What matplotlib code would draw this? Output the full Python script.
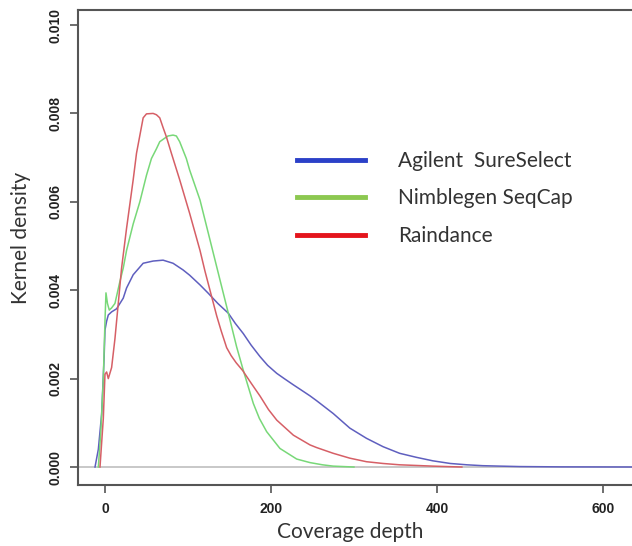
import matplotlib
matplotlib.use("Agg")
import matplotlib.pyplot as plt
from matplotlib.lines import Line2D

# ---- data ----
agilent_x = [-12, -8, -4, -1, 0, 2, 4, 8, 14, 18, 22, 26, 34, 46, 58, 70, 82, 94, 102,
             114.5, 124.5, 136, 148.6, 157, 166.6, 176, 186.7, 196, 206.9, 216, 226.9,
             235, 247, 255, 275, 295, 315, 335, 355, 375, 395, 416, 436, 455, 476, 500,
             550, 640]
agilent_y = [0, 0.0004, 0.0012, 0.0025, 0.0031, 0.0033, 0.00344, 0.00351, 0.00358, 0.0037,
             0.00382, 0.00405, 0.00435, 0.00461, 0.00466, 0.00468, 0.00461, 0.00446, 0.00434,
             0.00412, 0.00393, 0.0037, 0.00348, 0.00325, 0.00302, 0.00276, 0.0025, 0.0023,
             0.00212, 0.002, 0.00186, 0.00176, 0.00161, 0.0015, 0.00121, 0.00088, 0.00065,
             0.00046, 0.00031, 0.00022, 0.00014, 0.00008, 0.00005, 0.00003, 0.00002, 0.00001,
             0.000003, 0]

nimblegen_x = [-8, -5, -2, 0, 1.2, 3, 5.2, 8, 12, 18, 22, 26, 34, 42, 50, 56, 62, 66, 72,
               76, 82, 86, 90, 94, 98, 102, 114.5, 126.5, 138.6, 148.6, 158.6, 166.6, 178.7,
               186, 194.8, 210.8, 231, 247, 262, 275, 300]
nimblegen_y = [0, 0.0008, 0.002, 0.0033, 0.00394, 0.0037, 0.00355, 0.0036, 0.0037, 0.0042,
               0.0045, 0.0049, 0.0055, 0.006, 0.0066, 0.00698, 0.0072, 0.00736, 0.00744,
               0.00749, 0.00751, 0.00749, 0.00736, 0.00717, 0.00698, 0.00672, 0.00604,
               0.00514, 0.00423, 0.00348, 0.00272, 0.00219, 0.00144, 0.0011, 0.0008, 0.00042,
               0.00018, 0.0001, 0.00005, 0.00002, 0]

raindance_x = [-6, -2, 0, 2, 4, 8, 12, 16, 20, 26, 34, 38, 42, 46, 50, 58, 62, 66, 70, 74,
               80, 90, 102, 114.5, 120.5, 126.5, 134.6, 140, 146.6, 152, 158, 166, 176, 187,
               197, 207, 227, 247, 255, 275, 295, 315, 335, 355, 395, 430]
raindance_y = [0, 0.0011, 0.0021, 0.00215, 0.002, 0.00225, 0.0029, 0.0037, 0.0045, 0.0054,
               0.0065, 0.0071, 0.0075, 0.0079, 0.00799, 0.008, 0.00797, 0.0079, 0.00768,
               0.00747, 0.0071, 0.0065, 0.00574, 0.0049, 0.00443, 0.004, 0.00342, 0.00308,
               0.0027, 0.00252, 0.00236, 0.00218, 0.0019, 0.0016, 0.0013, 0.00106, 0.00072,
               0.0005, 0.00044, 0.00031, 0.0002, 0.00012, 0.00008, 0.00005, 0.00002, 0]

series_names = ["Agilent  SureSelect", "Nimblegen SeqCap", "Raindance"]
x_ticks = [0, 200, 400, 600]
y_ticks = [0.000, 0.002, 0.004, 0.006, 0.008, 0.010]
y_tick_labels = ["0.000", "0.002", "0.004", "0.006", "0.008", "0.010"]

curve_colors = ["#5f5fbf", "#78d878", "#d65f66"]
legend_colors = ["#2b40c8", "#8cc850", "#e4141c"]

# ---- figure ----
W, H = 632, 546
fig = plt.figure(figsize=(W / 100, H / 100), dpi=100)
left_px, right_px, top_px, bottom_px = 78, 660, 10, 485
ax = fig.add_axes([left_px / W, 1 - bottom_px / H,
                   (right_px - left_px) / W, (bottom_px - top_px) / H])

ax.axhline(0, color="#c8c8c8", lw=1.4, zorder=1)
for xs, ys, c in zip([agilent_x, nimblegen_x, raindance_x],
                     [agilent_y, nimblegen_y, raindance_y], curve_colors):
    ax.plot(xs, ys, color=c, lw=1.1, zorder=2)

ax.set_xlim(-32.5, 668.7)
ax.set_ylim(-0.000407, 0.01034)

ax.set_xticks(x_ticks)
ax.set_xticklabels([str(t) for t in x_ticks])
ax.set_yticks(y_ticks)
ax.set_yticklabels(y_tick_labels, rotation=90, va="center")

for lab in ax.get_xticklabels() + ax.get_yticklabels():
    lab.set_fontfamily("Liberation Sans")
    lab.set_fontweight("bold")
    lab.set_fontsize(10)
    lab.set_color("#222222")

ax.tick_params(axis="both", direction="out", length=6, width=1.2, color="#555555")
ax.tick_params(axis="y", pad=5)
ax.tick_params(axis="x", pad=6)

for s in ax.spines.values():
    s.set_color("#555555")
    s.set_linewidth(1.5)

label_font = dict(family="Lato", size=15, color="#333333")
ax.set_xlabel("Coverage depth", va="center", **label_font)
ax.xaxis.set_label_coords((350 - left_px) / (right_px - left_px),
                          (bottom_px - 532) / (bottom_px - top_px))
ax.set_ylabel("Kernel density", va="center", **label_font)
ax.yaxis.set_label_coords((21 - left_px) / (right_px - left_px),
                          (bottom_px - 238) / (bottom_px - top_px))

handles = [Line2D([], [], color=c, lw=3.5) for c in legend_colors]
leg = fig.legend(handles, series_names, loc="upper left",
                 bbox_to_anchor=(297 / W, 1 - 151 / H),
                 frameon=False, borderpad=0, borderaxespad=0,
                 handlelength=3.27, handletextpad=1.59, labelspacing=0.84,
                 prop=dict(family="Lato", size=15))
for t in leg.get_texts():
    t.set_color("#333333")

fig.savefig("out.png", dpi=100)
